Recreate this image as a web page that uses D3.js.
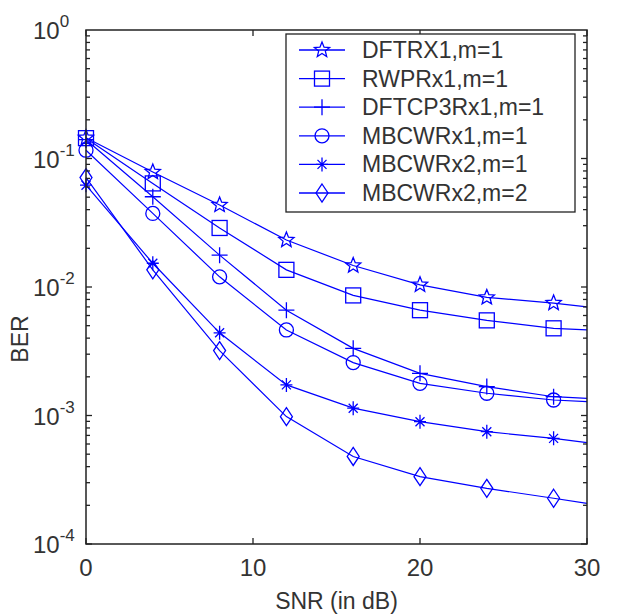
<!DOCTYPE html>
<html>
<head>
<meta charset="utf-8">
<script src="https://cdn.jsdelivr.net/npm/d3@7"></script>
<style>
  body { margin: 0; background: #fff; }
  text { font-family: "Liberation Sans", Arial, sans-serif; fill: #333; }
</style>
</head>
<body>
<div id="chart"></div>
<script>
// SNR values where markers are drawn; line runs on to 30
var snr = [0, 4, 8, 12, 16, 20, 24, 28, 30];

var dftrx1   = [0.145, 0.0785, 0.0435, 0.0232, 0.0147, 0.0104, 0.0083, 0.0075, 0.0070];
var rwprx1   = [0.144, 0.064, 0.0288, 0.0136, 0.0086, 0.0066, 0.0055, 0.00477, 0.00463];
var dftcp3   = [0.140, 0.0504, 0.0177, 0.0066, 0.00333, 0.00213, 0.00168, 0.0014, 0.00136];
var mbcw1m1  = [0.116, 0.0374, 0.012, 0.00463, 0.00258, 0.00178, 0.00149, 0.00132, 0.00128];
var mbcw2m1  = [0.062, 0.0153, 0.0044, 0.00173, 0.00114, 0.000895, 0.000748, 0.000664, 0.000615];
var mbcw2m2  = [0.071, 0.0136, 0.0032, 0.00098, 0.00048, 0.000334, 0.000271, 0.000227, 0.000207];

var names = ['DFTRX1,m=1', 'RWPRx1,m=1', 'DFTCP3Rx1,m=1', 'MBCWRx1,m=1', 'MBCWRx2,m=1', 'MBCWRx2,m=2'];
var markers = ['star', 'square', 'plus', 'circle', 'asterisk', 'diamond'];
var series = [dftrx1, rwprx1, dftcp3, mbcw1m1, mbcw2m1, mbcw2m2];

var xTicks = [0, 10, 20, 30];
var yTicks = [1, 0.1, 0.01, 0.001, 0.0001];
var yExp = ['0', '-1', '-2', '-3', '-4'];

var width = 617;
var height = 616;
var pLeft = 86, pTop = 30, pRight = 587, pBottom = 544;
var blue = '#0000ff';

var svg = d3.select('#chart')
    .append('svg')
    .attr('width', width)
    .attr('height', height);

var x = d3.scaleLinear().domain([0, 30]).range([pLeft, pRight]);
var y = d3.scaleLog().domain([1e-4, 1]).range([pBottom, pTop]);

// data lines
var line = d3.line()
    .x(function(d) { return x(d[0]); })
    .y(function(d) { return y(d[1]); });

var plot = svg.append('g');

series.forEach(function(s, k) {
    var pts = snr.map(function(v, i) { return [v, s[i]]; });
    plot.append('path')
        .attr('d', line(pts))
        .attr('fill', 'none')
        .attr('stroke', blue)
        .attr('stroke-width', 1.2);
    pts.filter(function(p) { return p[0] <= 28; }).forEach(function(p) {
        drawMarker(plot, markers[k], x(p[0]), y(p[1]));
    });
});

function drawMarker(g, type, cx, cy) {
    var m = g.append('g').attr('transform', 'translate(' + cx + ',' + cy + ')')
        .attr('fill', 'none').attr('stroke', blue).attr('stroke-width', 1.3);
    if (type == 'star') {
        var pts = [];
        for (var i = 0; i < 10; i++) {
            var r = i % 2 == 0 ? 8 : 3.5;
            var a = -Math.PI / 2 + i * Math.PI / 5;
            pts.push([r * Math.cos(a), r * Math.sin(a)]);
        }
        m.append('path').attr('d', 'M' + pts.join('L') + 'Z');
    } else if (type == 'square') {
        m.append('rect').attr('x', -7.5).attr('y', -7.5).attr('width', 15).attr('height', 15);
    } else if (type == 'plus') {
        m.append('path').attr('d', 'M-8,0H8M0,-8V8');
    } else if (type == 'circle') {
        m.append('circle').attr('r', 7);
    } else if (type == 'asterisk') {
        m.append('path').attr('d', 'M-6,0H6M0,-7V7M-4.5,-4.5L4.5,4.5M-4.5,4.5L4.5,-4.5');
    } else if (type == 'diamond') {
        m.append('path').attr('d', 'M0,-9L6,0L0,9L-6,0Z');
    }
}

// axes box
svg.append('rect')
    .attr('x', pLeft).attr('y', pTop)
    .attr('width', pRight - pLeft).attr('height', pBottom - pTop)
    .attr('fill', 'none').attr('stroke', '#222').attr('stroke-width', 1.5);

// x ticks (inward, bottom and top)
var tickG = svg.append('g').attr('stroke', '#222').attr('stroke-width', 1.3);
xTicks.forEach(function(t) {
    tickG.append('line').attr('x1', x(t)).attr('x2', x(t)).attr('y1', pBottom).attr('y2', pBottom - 6);
    tickG.append('line').attr('x1', x(t)).attr('x2', x(t)).attr('y1', pTop).attr('y2', pTop + 6);
});
svg.append('g').selectAll('text')
    .data(xTicks)
    .enter()
    .append('text')
    .attr('x', function(d) { return x(d); })
    .attr('y', pBottom + 32)
    .attr('text-anchor', 'middle')
    .attr('font-size', 24)
    .text(function(d) { return d; });

// y ticks: major + minor log ticks on both sides
for (var e = -4; e < 0; e++) {
    for (var k = 1; k < 10; k++) {
        var v = k * Math.pow(10, e);
        var len = k == 1 ? 6 : 4;
        tickG.append('line').attr('x1', pLeft).attr('x2', pLeft + len).attr('y1', y(v)).attr('y2', y(v));
        tickG.append('line').attr('x1', pRight).attr('x2', pRight - len).attr('y1', y(v)).attr('y2', y(v));
    }
}

var yLab = svg.append('g').selectAll('text')
    .data(yTicks)
    .enter()
    .append('text')
    .attr('x', 33)
    .attr('y', function(d) { return y(d) + 9; })
    .attr('font-size', 24);
yLab.append('tspan').text('10');
yLab.append('tspan')
    .attr('dy', -12)
    .attr('font-size', 17)
    .text(function(d, i) { return yExp[i]; });

// axis titles
svg.append('text')
    .attr('x', (pLeft + pRight) / 2)
    .attr('y', 609)
    .attr('text-anchor', 'middle')
    .attr('font-size', 23)
    .text('SNR (in dB)');

svg.append('text')
    .attr('transform', 'translate(28,' + ((pTop + pBottom) / 2 + 52) + ') rotate(-90)')
    .attr('text-anchor', 'middle')
    .attr('font-size', 23)
    .text('BER');

// legend
var legend = svg.append('g');
legend.append('rect')
    .attr('x', 286).attr('y', 34)
    .attr('width', 289).attr('height', 178)
    .attr('fill', '#fff').attr('stroke', '#222').attr('stroke-width', 1.3);

names.forEach(function(n, i) {
    var ly = 50 + i * 28.6;
    legend.append('line')
        .attr('x1', 299).attr('x2', 345).attr('y1', ly).attr('y2', ly)
        .attr('stroke', blue).attr('stroke-width', 1.3);
    drawMarker(legend, markers[i], 322, ly);
    legend.append('text')
        .attr('x', 362).attr('y', ly + 8)
        .attr('font-size', 23)
        .text(n);
});
</script>
</body>
</html>
